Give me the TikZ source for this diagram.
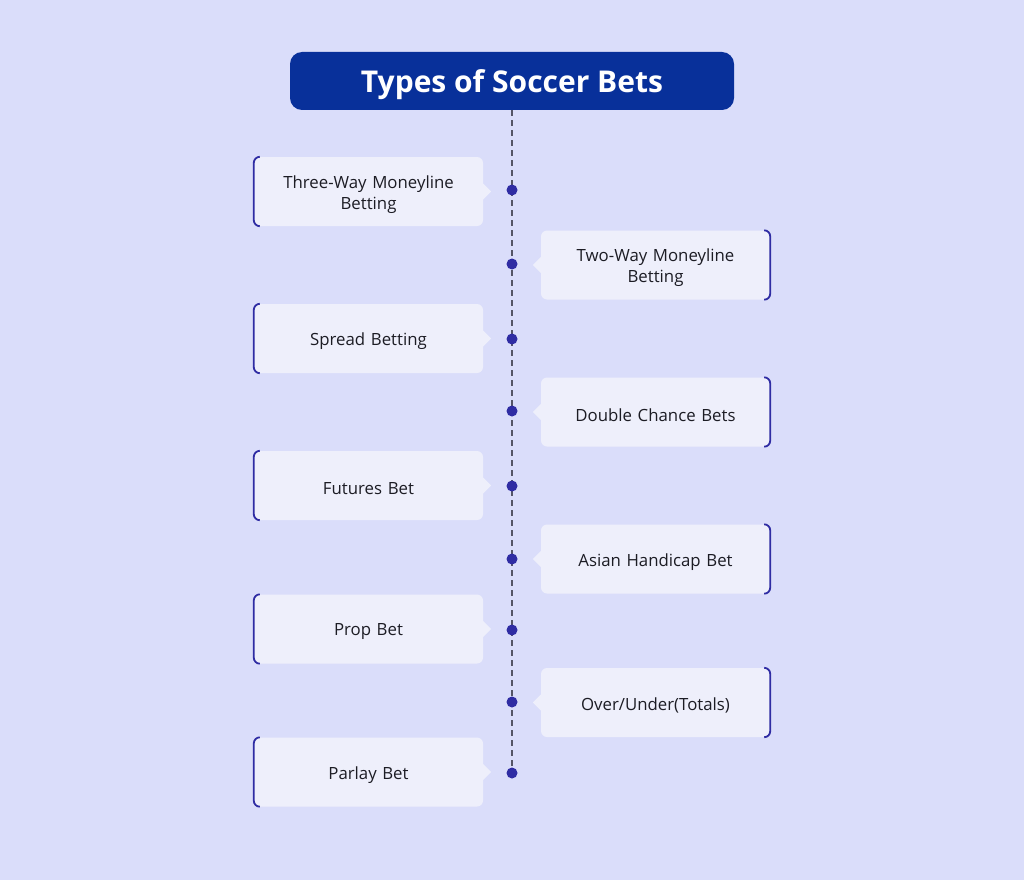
\documentclass[tikz,border=0pt]{standalone}
\usepackage{fontspec}
\setmainfont{Open Sans}
\definecolor{bg}{HTML}{DADDFA}
\definecolor{titlebg}{HTML}{08309A}
\definecolor{boxbg}{HTML}{EEEFFB}
\definecolor{accent}{HTML}{2F2CA3}
\definecolor{txt}{HTML}{1C1C24}
\definecolor{dashc}{HTML}{555566}
\begin{document}
\begin{tikzpicture}[x=1pt,y=-1pt,
  itembox/.style={fill=boxbg,rounded corners=6pt,minimum width=229pt,minimum height=69pt,inner sep=0pt},
  itemtext/.style={text width=215pt,align=center,inner sep=0pt,font=\fontsize{16.8}{21}\selectfont,text=txt},
  dot/.style={circle,fill=accent,inner sep=0pt,minimum size=11pt},
  edge/.style={accent,line width=1.8pt}]
\fill[bg] (0,0) rectangle (1024,880);
\useasboundingbox (0,0) rectangle (1024,880);
\node[fill=titlebg,rounded corners=12pt,minimum width=444pt,minimum height=58pt,inner sep=0pt] (title) at (512,81) {};
\node[text=white,font=\fontsize{30}{34}\selectfont\bfseries,inner sep=0pt] (titletext) at ([yshift=-4pt]title.center) {Types of Soccer Bets};
% dots
\foreach \n/\y in {d1/190,d2/264,d3/339,d4/411,d5/486,d6/559,d7/630,d8/702,d9/773}
  \coordinate (\n) at (512,\y);
\draw[dash pattern=on 6pt off 4pt,line width=1.3pt,dashc] (title.south) -- (d9);
\foreach \n in {d1,d2,d3,d4,d5,d6,d7,d8,d9}
  \node[dot] (\n c) at (\n) {};
% left boxes
\foreach \n/\y/\t in {l1/191.5/{Three-Way Moneyline\\Betting},l2/338.5/{Spread Betting},l3/485.5/{Futures Bet},l4/629/{Prop Bet},l5/772/{Parlay Bet}}{
  \node[itembox] (\n) at (368.5,\y) {};
  \node[itemtext] (\n t) at ([yshift=-3pt]\n.center) {\t};
  \fill[boxbg] ([yshift=-8pt]\n.east) -- ([xshift=8pt]\n.east) -- ([yshift=8pt]\n.east) -- cycle;
  \draw[edge] ([xshift=6pt]\n.north west) arc[start angle=90,end angle=180,radius=6pt] -- ([yshift=6pt]\n.south west) arc[start angle=180,end angle=270,radius=6pt];
}
% right boxes
\foreach \n/\y/\t in {r1/265/{Two-Way Moneyline\\Betting},r2/412/{Double Chance Bets},r3/559/{Asian Handicap Bet},r4/702.5/{Over/Under(Totals)}}{
  \node[itembox] (\n) at (655.5,\y) {};
  \node[itemtext] (\n t) at ([yshift=-3pt]\n.center) {\t};
  \fill[boxbg] ([yshift=-8pt]\n.west) -- ([xshift=-8pt]\n.west) -- ([yshift=8pt]\n.west) -- cycle;
  \draw[edge] ([xshift=-6pt]\n.north east) arc[start angle=90,end angle=0,radius=6pt] -- ([yshift=6pt]\n.south east) arc[start angle=0,end angle=-90,radius=6pt];
}
\end{tikzpicture}
\end{document}
